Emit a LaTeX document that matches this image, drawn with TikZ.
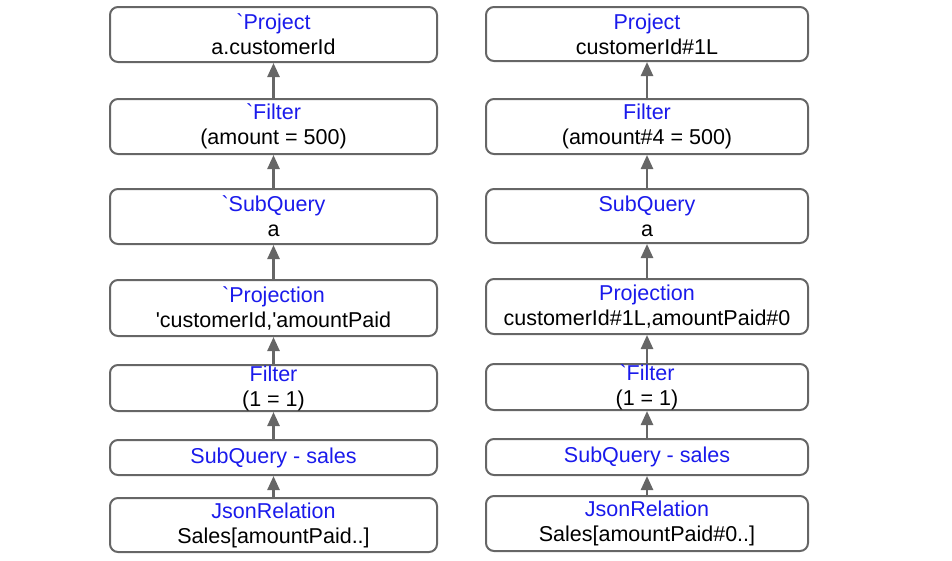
\documentclass[tikz,border=0pt]{standalone}
\usepackage{fontspec}
\newfontfamily\opfont{Liberation Sans}
\usetikzlibrary{arrows.meta}
\definecolor{opblue}{RGB}{26,26,235}
\definecolor{edgegray}{RGB}{102,102,102}
\newcommand{\optitle}[1]{\textcolor{opblue}{#1}}
\begin{document}
\begin{tikzpicture}[x=1pt,y=-1pt,
  opbox/.style={draw=edgegray,line width=2pt,rounded corners=8pt,align=center,
    inner sep=0pt,font=\opfont\fontsize{21.5}{25}\selectfont},
  lbox/.style={opbox,minimum width=327pt},
  rbox/.style={opbox,minimum width=322pt},
  flow/.style={draw=edgegray,line width=2.5pt,-{Triangle[length=14pt,width=12pt]}}]
\useasboundingbox (0,0) rectangle (952,560);
% left plan
\node[lbox,minimum height=55pt] (lproject) at (273.5,34.5) {\optitle{`Project}\\a.customerId};
\node[lbox,minimum height=55pt] (lfilter) at (273.5,126.5) {\optitle{`Filter}\\(amount = 500)};
\node[lbox,minimum height=55pt] (lsubquery) at (273.5,216.5) {\optitle{`SubQuery}\\a};
\node[lbox,minimum height=56pt] (lprojection) at (273.5,308) {\optitle{`Projection}\\'customerId,'amountPaid};
\node[lbox,minimum height=46pt] (lfilterone) at (273.5,388) {\optitle{Filter}\\(1 = 1)};
\node[lbox,minimum height=35pt] (lsales) at (273.5,457.5) {\optitle{SubQuery - sales}};
\node[lbox,minimum height=54pt] (ljson) at (273.5,525) {\optitle{JsonRelation}\\Sales[amountPaid..]};
% right plan
\node[rbox,minimum height=54pt] (rproject) at (647,34) {\optitle{Project}\\customerId\#1L};
\node[rbox,minimum height=55pt] (rfilter) at (647,126.5) {\optitle{Filter}\\(amount\#4 = 500)};
\node[rbox,minimum height=54pt] (rsubquery) at (647,216) {\optitle{SubQuery}\\a};
\node[rbox,minimum height=55pt] (rprojection) at (647,306.5) {\optitle{Projection}\\customerId\#1L,amountPaid\#0};
\node[rbox,minimum height=46pt] (rfilterone) at (647,387) {\optitle{`Filter}\\(1 = 1)};
\node[rbox,minimum height=36pt] (rsales) at (647,457) {\optitle{SubQuery - sales}};
\node[rbox,minimum height=55pt] (rjson) at (647,523.5) {\optitle{JsonRelation}\\Sales[amountPaid\#0..]};
% arrows
\draw[flow] (lfilter) -- (lproject);
\draw[flow] (lsubquery) -- (lfilter);
\draw[flow] (lprojection) -- (lsubquery);
\draw[flow] (lfilterone) -- (lprojection);
\draw[flow] (lsales) -- (lfilterone);
\draw[flow] (ljson) -- (lsales);
\draw[flow] (rfilter) -- (rproject);
\draw[flow] (rsubquery) -- (rfilter);
\draw[flow] (rprojection) -- (rsubquery);
\draw[flow] (rfilterone) -- (rprojection);
\draw[flow] (rsales) -- (rfilterone);
\draw[flow] (rjson) -- (rsales);
\end{tikzpicture}
\end{document}
